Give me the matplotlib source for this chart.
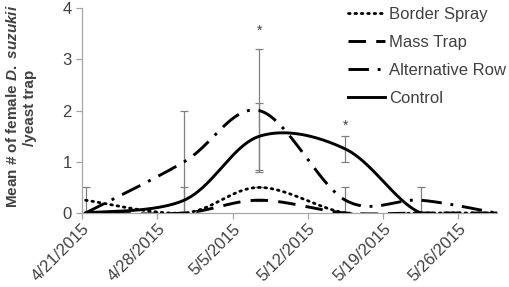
import numpy as np
import matplotlib
matplotlib.use('Agg')
import matplotlib.pyplot as plt
import matplotlib.dates as mdates

plt.rcParams['font.family'] = ['Liberation Sans', 'DejaVu Sans']
plt.rcParams['mathtext.fontset'] = 'custom'
plt.rcParams['mathtext.rm'] = 'Liberation Sans:bold'
plt.rcParams['mathtext.it'] = 'Liberation Sans:italic:bold'

# sample dates and trap means
dates = np.array(['2015-04-21T08', '2015-04-30T12', '2015-05-07T12',
                  '2015-05-15T12', '2015-05-22T12', '2015-05-29T12'], dtype='datetime64[h]')
border_spray = [0.25, 0, 0.5, 0, 0, 0]
mass_trap = [0, 0, 0.25, 0, 0, 0]
alt_row = [0, 1.0, 2.0, 0.25, 0.25, 0]
control = [0, 0.25, 1.5, 1.25, 0, 0]

border_err = [0.25, 0, 0, 0, 0, 0]
mass_err = [0, 0, 0.02, 0, 0, 0]
alt_err = [0, 1.0, 1.2, 0.25, 0.25, 0]
control_err = [0, 0.25, 0.65, 0.25, 0, 0]

# significance stars: index of date, height
star_idx = [2, 3]
star_y = [3.56, 1.7]

tick_dates = np.array(['2015-04-21', '2015-04-28', '2015-05-05',
                       '2015-05-12', '2015-05-19', '2015-05-26'], dtype='datetime64[D]')
tick_labels = ['4/21/2015', '4/28/2015', '5/5/2015', '5/12/2015', '5/19/2015', '5/26/2015']


def smooth(x, y, n=40):
    # excel style smoothed line (bezier through the points)
    x = np.asarray(x, float)
    y = np.asarray(y, float)
    px = np.concatenate([[x[0]], x, [x[-1]]])
    py = np.concatenate([[y[0]], y, [y[-1]]])
    xs, ys = [], []
    t = np.linspace(0, 1, n)
    for i in range(len(x) - 1):
        p0 = np.array([px[i], py[i]])
        p1 = np.array([px[i + 1], py[i + 1]])
        p2 = np.array([px[i + 2], py[i + 2]])
        p3 = np.array([px[i + 3], py[i + 3]])
        c1 = p1 + (p2 - p0) / 6
        c2 = p2 - (p3 - p1) / 6
        b = ((1 - t) ** 3)[:, None] * p1 + (3 * (1 - t) ** 2 * t)[:, None] * c1 \
            + (3 * (1 - t) * t ** 2)[:, None] * c2 + (t ** 3)[:, None] * p2
        xs.extend(b[:, 0])
        ys.extend(b[:, 1])
    return np.array(xs), np.array(ys)


fig = plt.figure(figsize=(5.1, 2.87), dpi=100)
ax = fig.add_axes([82 / 510, 1 - 213 / 287, 415 / 510, (213 - 8.3) / 287])

xn = mdates.date2num(dates.astype('datetime64[s]').astype(object))

series = [
    ('Border Spray', border_spray, border_err, (0, (0.6, 1.7)), 2.0),
    ('Mass Trap', mass_trap, mass_err, (0, (6, 3.5)), 2.1),
    ('Alternative Row', alt_row, alt_err, (0, (7, 3, 1, 3)), 2.1),
    ('Control', control, control_err, '-', 2.1),
]

for name, vals, err, ls, lw in series:
    ax.errorbar(xn, vals, yerr=err, fmt='none', ecolor='#808080', elinewidth=0.9,
                capsize=3, capthick=0.9, zorder=1)
for name, vals, err, ls, lw in series:
    sx, sy = smooth(xn, vals)
    cap = 'round' if name == 'Border Spray' else 'butt'
    ax.plot(sx, sy, color='black', linestyle=ls, linewidth=lw, label=name,
            dash_capstyle=cap, zorder=3)

for i, yv in zip(star_idx, star_y):
    ax.text(xn[i], yv, '*', ha='center', va='center', fontsize=10, color='#404040')

ax.set_ylim(0, 4)
ax.set_yticks([0, 1, 2, 3, 4])
x0 = mdates.date2num(np.datetime64('2015-04-21T00', 's').astype(object))
ax.set_xlim(x0, x0 + 38.6)
tn = mdates.date2num(tick_dates.astype('datetime64[s]').astype(object))
ax.set_xticks(tn)
ax.set_xticklabels(tick_labels, rotation=45, ha='right', rotation_mode='anchor')

for s in ['top', 'right']:
    ax.spines[s].set_visible(False)
for s in ['left', 'bottom']:
    ax.spines[s].set_color('#a6a6a6')
    ax.spines[s].set_linewidth(0.9)
ax.tick_params(axis='both', colors='#a6a6a6', labelcolor='#404040', labelsize=12,
               length=4, width=0.9)
ax.tick_params(axis='x', pad=2)

# y label in two lines, species name in italics
fig.text(12.5 / 510, 1 - 106 / 287, 'Mean # of female $\\mathit{D.\\ suzukii}$',
         rotation=90, ha='center', va='center', fontsize=11, fontweight='bold',
         color='#404040')
fig.text(30 / 510, 1 - 108 / 287, '/yeast trap', rotation=90, ha='center', va='center',
         fontsize=11, fontweight='bold', fontstyle='normal', color='#404040')

ax.legend(loc='upper left', bbox_to_anchor=(348 / 510, 1 - 7 / 287),
          bbox_transform=fig.transFigure, frameon=False, fontsize=12,
          handlelength=2.2, handletextpad=0.25, labelspacing=0.78,
          borderpad=0, borderaxespad=0, labelcolor='#404040')

fig.savefig('out.png', dpi=100)
